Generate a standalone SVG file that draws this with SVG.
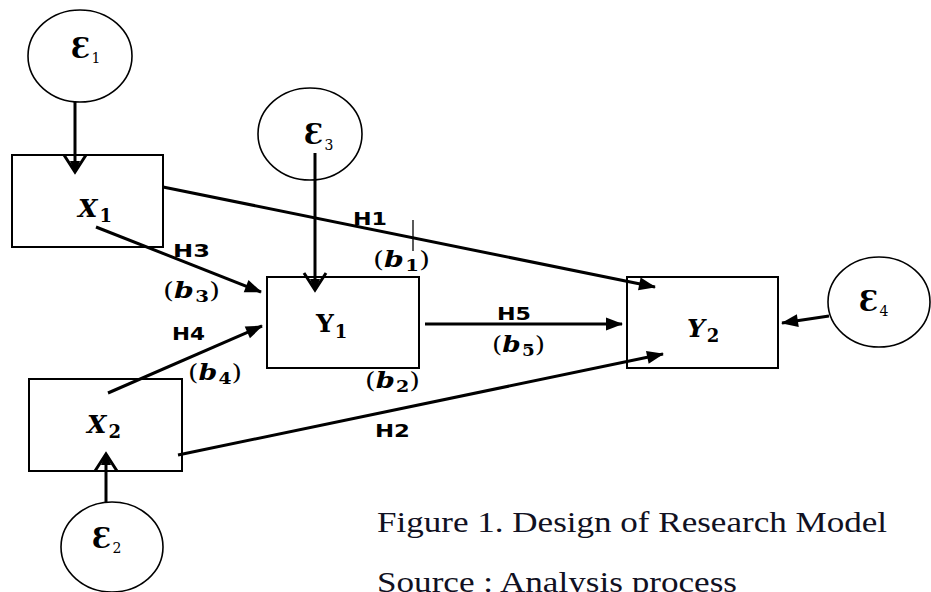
<svg xmlns="http://www.w3.org/2000/svg" width="931" height="592" viewBox="0 0 931 592">
<style>
.box{fill:#fff;stroke:#000;stroke-width:2}
.circ{fill:#fff;stroke:#000;stroke-width:1.6}
.conn{stroke:#000;stroke-width:3;fill:none}
.tick{stroke:#000;stroke-width:1.3}
.eps{font-family:"DejaVu Serif",serif;font-weight:bold;font-size:27px;fill:#000}
.esub{font-family:"DejaVu Serif",serif;font-weight:normal;font-size:14px;fill:#000}
.var{font-family:"DejaVu Serif",serif;font-weight:bold;font-size:25px;fill:#000}
.vsub{font-size:18px;font-style:normal}
.it{font-style:italic}
.hl{font-family:"DejaVu Sans",sans-serif;font-weight:bold;font-size:18px;fill:#000}
.coef{font-family:"DejaVu Serif",serif;font-size:23px;fill:#000}
.cb{font-weight:bold;font-style:italic}
.cs{font-size:16px;font-weight:bold;font-style:normal}
.cap{font-family:"Liberation Serif",serif;font-size:30px;fill:#111122}
</style>
<defs>
<marker id="tri" viewBox="-17 -8 18 16" refX="0" refY="0" markerWidth="18" markerHeight="16" markerUnits="userSpaceOnUse" orient="auto">
<path d="M-16,-6.5 L1,0 L-16,6.5 z" fill="#000"/>
</marker>
<marker id="vee" viewBox="-20 -14 23 28" refX="0" refY="0" markerWidth="23" markerHeight="28" markerUnits="userSpaceOnUse" orient="auto">
<path d="M-17,-11 L0,0 L-17,11" fill="none" stroke="#000" stroke-width="3"/>
<path d="M-11,-5 L1.5,0 L-11,5 z" fill="#000"/>
</marker>
</defs>

<g id="e1">
<ellipse class="circ" cx="80" cy="56" rx="52" ry="46"/>
<text class="eps" x="71" y="58">Ɛ<tspan class="esub" dx="1" dy="5">1</tspan></text>
</g>
<g id="e3">
<ellipse class="circ" cx="310" cy="134" rx="52" ry="46"/>
<text class="eps" x="304" y="144">Ɛ<tspan class="esub" dx="1" dy="6">3</tspan></text>
</g>
<g id="e4">
<ellipse class="circ" cx="879" cy="302" rx="51" ry="45"/>
<text class="eps" x="859" y="311">Ɛ<tspan class="esub" dx="1" dy="5">4</tspan></text>
</g>
<g id="e2">
<ellipse class="circ" cx="112" cy="547" rx="51" ry="45"/>
<text class="eps" x="92" y="548">Ɛ<tspan class="esub" dx="1" dy="5">2</tspan></text>
</g>

<g id="X1">
<rect class="box" x="12" y="155" width="151" height="92"/>
<text class="var it" x="78" y="217">X<tspan class="vsub" dx="2" dy="5">1</tspan></text>
</g>
<g id="Y1">
<rect class="box" x="267" y="277" width="152" height="91"/>
<text class="var" x="316" y="332">Y<tspan class="vsub" dx="1" dy="6">1</tspan></text>
</g>
<g id="Y2">
<rect class="box" x="627" y="277" width="151" height="91"/>
<text class="var it" x="687" y="337">Y<tspan class="vsub" dx="2" dy="5">2</tspan></text>
</g>
<g id="X2">
<rect class="box" x="29" y="379" width="153" height="92"/>
<text class="var it" x="87" y="433">X<tspan class="vsub" dx="2" dy="5">2</tspan></text>
</g>

<g id="connectors">
<line class="conn" x1="75" y1="102" x2="75" y2="172" marker-end="url(#vee)"/>
<line class="conn" x1="315" y1="153" x2="315" y2="290" marker-end="url(#vee)"/>
<line class="conn" x1="106" y1="502" x2="106" y2="454" marker-end="url(#vee)"/>
<line class="conn" x1="829" y1="316" x2="782" y2="323" stroke-width="2" marker-end="url(#tri)"/>
<line class="conn" x1="163" y1="187" x2="655" y2="287" marker-end="url(#tri)"/>
<line class="conn" x1="96" y1="227" x2="261" y2="292" marker-end="url(#tri)"/>
<line class="conn" x1="108" y1="393" x2="262" y2="326" marker-end="url(#tri)"/>
<line class="conn" x1="425" y1="324" x2="622" y2="324" marker-end="url(#tri)"/>
<line class="conn" x1="178" y1="455" x2="663" y2="354" marker-end="url(#tri)"/>
<line class="tick" x1="413" y1="220" x2="413" y2="251"/>
</g>

<g id="labels">
<text class="hl" x="353" y="225" textLength="34" lengthAdjust="spacingAndGlyphs">H1</text>
<text class="hl" x="173" y="257" textLength="37" lengthAdjust="spacingAndGlyphs">H3</text>
<text class="hl" x="172" y="340" textLength="33" lengthAdjust="spacingAndGlyphs">H4</text>
<text class="hl" x="497" y="320" textLength="34" lengthAdjust="spacingAndGlyphs">H5</text>
<text class="hl" x="375" y="437" textLength="35" lengthAdjust="spacingAndGlyphs">H2</text>

<text class="coef" x="373" y="267" textLength="57" lengthAdjust="spacingAndGlyphs">(<tspan class="cb">b</tspan><tspan class="cs" dx="1" dy="4">1</tspan><tspan dy="-4">)</tspan></text>
<text class="coef" x="163" y="298" textLength="57" lengthAdjust="spacingAndGlyphs">(<tspan class="cb">b</tspan><tspan class="cs" dx="1" dy="4">3</tspan><tspan dy="-4">)</tspan></text>
<text class="coef" x="188" y="380" textLength="54" lengthAdjust="spacingAndGlyphs">(<tspan class="cb">b</tspan><tspan class="cs" dx="1" dy="4">4</tspan><tspan dy="-4">)</tspan></text>
<text class="coef" x="492" y="352" textLength="53" lengthAdjust="spacingAndGlyphs">(<tspan class="cb">b</tspan><tspan class="cs" dx="1" dy="4">5</tspan><tspan dy="-4">)</tspan></text>
<text class="coef" x="365" y="388" textLength="55" lengthAdjust="spacingAndGlyphs">(<tspan class="cb">b</tspan><tspan class="cs" dx="1" dy="4">2</tspan><tspan dy="-4">)</tspan></text>

<text class="cap" x="377" y="532" textLength="510" lengthAdjust="spacingAndGlyphs">Figure 1. Design of Research Model</text>
<text class="cap" x="377" y="592" textLength="360" lengthAdjust="spacingAndGlyphs">Source : Analysis process</text>
</g>
</svg>
